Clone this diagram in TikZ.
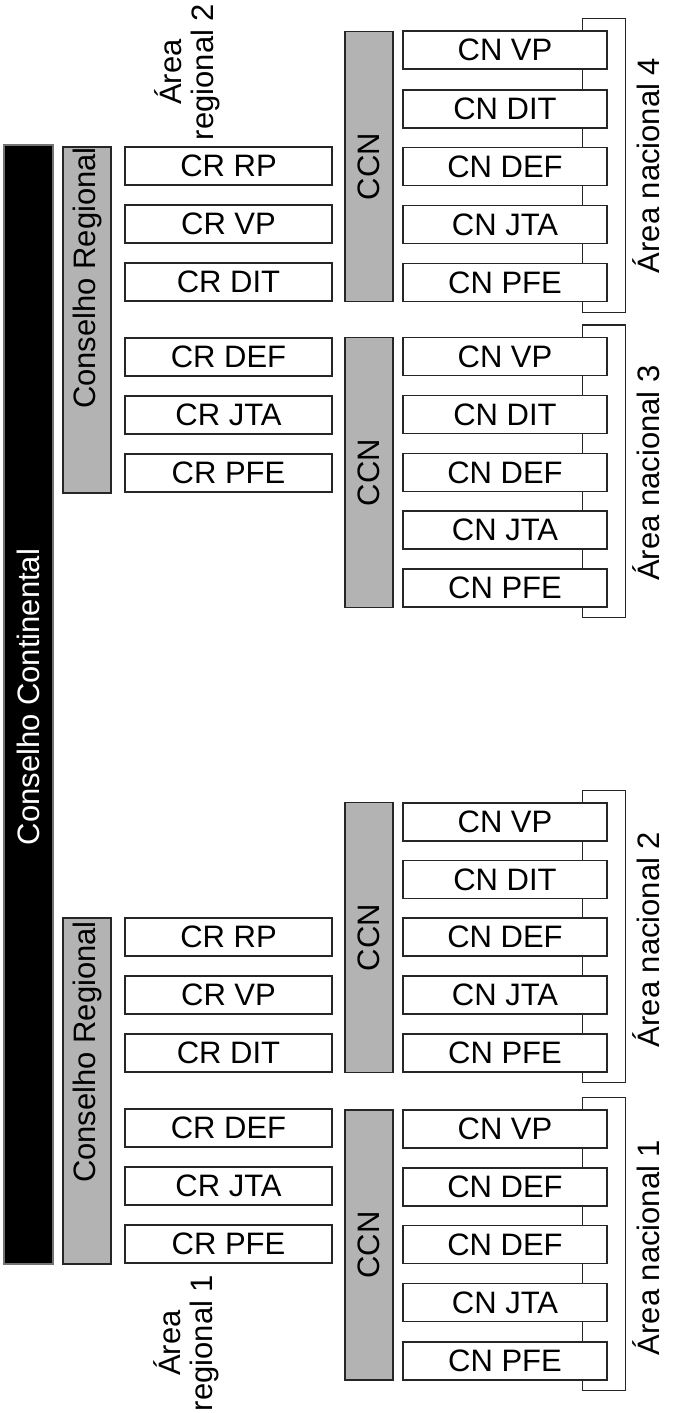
\documentclass[tikz,border=0pt]{standalone}
\usepackage{fontspec}
\setmainfont{Liberation Sans}
\usetikzlibrary{positioning,calc,backgrounds}
\definecolor{bargray}{RGB}{179,179,179}

\begin{document}
\begin{tikzpicture}[x=0.5pt,y=-0.5pt,
  every node/.style={font=\fontsize{15.5}{16}\selectfont},
  crbox/.style={draw=black!85,line width=0.7pt,fill=white,minimum width=103.5pt,minimum height=19pt,inner sep=0pt},
  cnbox/.style={crbox,minimum width=102pt},
  graybar/.style={draw=black!85,line width=0.7pt,fill=bargray,rotate=90,minimum height=24pt,inner sep=0pt},
  blackbar/.style={draw=black!55,line width=0.7pt,fill=black,rotate=90,minimum height=24.5pt,minimum width=559.5pt,inner sep=0pt},
  vlbl/.style={rotate=90,align=center,inner sep=0pt},
  bracket/.style={draw=black!85,line width=0.7pt}]
\useasboundingbox (0,0) rectangle (687,1413);

% conselho continental
\node[blackbar] (cc) at (28.5,704.5) {};
\node[vlbl,text=white] (cctxt) at (28,697) {Conselho Continental};

% conselhos regionais
\node[graybar,minimum width=173pt] (cr2) at (87,320) {};
\node[vlbl] (cr2txt) at (87,278) {Conselho Regional};
\node[graybar,minimum width=173pt] (cr1) at (87,1091) {};
\node[vlbl] (cr1txt) at (87,1052) {Conselho Regional};

% area regional 2
\node[crbox] (r2rp) at (228.5,166) {CR RP};
\node[crbox] (r2vp) at (228.5,224) {CR VP};
\node[crbox] (r2dit) at (228.5,282) {CR DIT};
\node[crbox] (r2def) at (228.5,357) {CR DEF};
\node[crbox] (r2jta) at (228.5,415) {CR JTA};
\node[crbox] (r2pfe) at (228.5,473) {CR PFE};
\node[vlbl] (r2lbl) at (187,72) {Área\\regional 2};

% area regional 1
\node[crbox] (r1rp) at (228.5,937) {CR RP};
\node[crbox] (r1vp) at (228.5,995) {CR VP};
\node[crbox] (r1dit) at (228.5,1053) {CR DIT};
\node[crbox] (r1def) at (228.5,1128) {CR DEF};
\node[crbox] (r1jta) at (228.5,1186) {CR JTA};
\node[crbox] (r1pfe) at (228.5,1244) {CR PFE};
\node[vlbl] (r1lbl) at (186,1343) {Área\\regional 1};

% CCN
\node[graybar,minimum width=135pt] (ccn4) at (369,166.5) {CCN};
\node[graybar,minimum width=135pt] (ccn3) at (369,472.5) {CCN};
\node[graybar,minimum width=135pt] (ccn2) at (369,937.5) {CCN};
\node[graybar,minimum width=135pt] (ccn1) at (369,1245) {CCN};

% area nacional 4
\node[cnbox] (a4vp) at (505,50) {CN VP};
\node[cnbox] (a4dit) at (505,109) {CN DIT};
\node[cnbox] (a4def) at (505,166.5) {CN DEF};
\node[cnbox] (a4jta) at (505,224.5) {CN JTA};
\node[cnbox] (a4pfe) at (505,282.5) {CN PFE};
\node[vlbl,anchor=base] (a4lbl) at (659,165.5) {Área nacional 4};

% area nacional 3
\node[cnbox] (a3vp) at (505,356.5) {CN VP};
\node[cnbox] (a3dit) at (505,414.5) {CN DIT};
\node[cnbox] (a3def) at (505,472.5) {CN DEF};
\node[cnbox] (a3jta) at (505,530) {CN JTA};
\node[cnbox] (a3pfe) at (505,588) {CN PFE};
\node[vlbl,anchor=base] (a3lbl) at (659,473) {Área nacional 3};

% area nacional 2
\node[cnbox] (a2vp) at (505,822) {CN VP};
\node[cnbox] (a2dit) at (505,879.5) {CN DIT};
\node[cnbox] (a2def) at (505,937) {CN DEF};
\node[cnbox] (a2jta) at (505,995) {CN JTA};
\node[cnbox] (a2pfe) at (505,1053) {CN PFE};
\node[vlbl,anchor=base] (a2lbl) at (659,939.5) {Área nacional 2};

% area nacional 1
\node[cnbox] (a1vp) at (505,1129) {CN VP};
\node[cnbox] (a1def) at (505,1187) {CN DEF};
\node[cnbox] (a1deff) at (505,1244.5) {CN DEF};
\node[cnbox] (a1jta) at (505,1302.5) {CN JTA};
\node[cnbox] (a1pfe) at (505,1361) {CN PFE};
\node[vlbl,anchor=base] (a1lbl) at (659,1247.5) {Área nacional 1};

% chaves
\begin{scope}[on background layer]
\draw[bracket] ($(a4vp.north east)+(-25,-12)$) rectangle ($(a4pfe.south east)+(18,10)$);
\draw[bracket] ($(a3vp.north east)+(-25,-12)$) rectangle ($(a3pfe.south east)+(18,10)$);
\draw[bracket] ($(a2vp.north east)+(-25,-12)$) rectangle ($(a2pfe.south east)+(18,10)$);
\draw[bracket] ($(a1vp.north east)+(-25,-12)$) rectangle ($(a1pfe.south east)+(18,10)$);
\end{scope}
\end{tikzpicture}
\end{document}
